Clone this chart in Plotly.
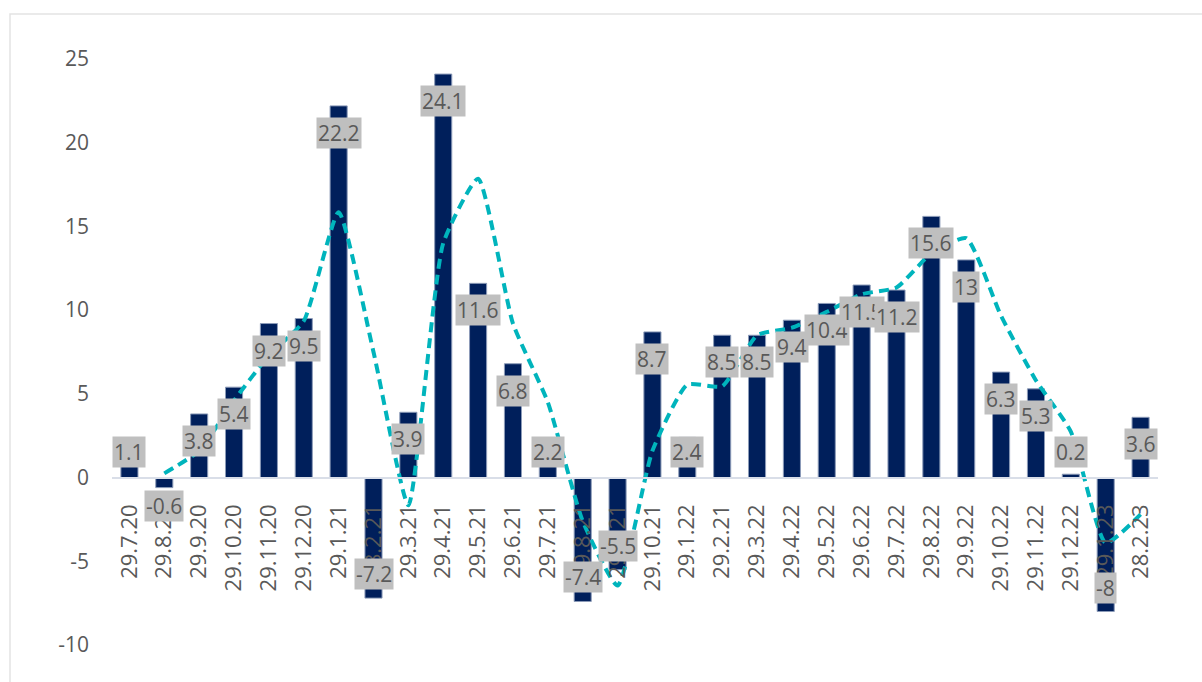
import plotly.graph_objects as go

categories = ["29.7.20", "29.8.20", "29.9.20", "29.10.20", "29.11.20", "29.12.20",
              "29.1.21", "28.2.21", "29.3.21", "29.4.21", "29.5.21", "29.6.21",
              "29.7.21", "29.8.21", "29.9.21", "29.10.21", "29.1.22", "29.2.21",
              "29.3.22", "29.4.22", "29.5.22", "29.6.22", "29.7.22", "29.8.22",
              "29.9.22", "29.10.22", "29.11.22", "29.12.22", "29.1.23", "28.2.23"]
values = [1.1, -0.6, 3.8, 5.4, 9.2, 9.5, 22.2, -7.2, 3.9, 24.1, 11.6, 6.8, 2.2,
          -7.4, -5.5, 8.7, 2.4, 8.5, 8.5, 9.4, 10.4, 11.5, 11.2, 15.6, 13, 6.3,
          5.3, 0.2, -8, 3.6]
trend_categories = categories[1:]
trend_values = [0.25, 1.6, 4.6, 7.3, 9.35, 15.85, 7.5, -1.65, 14.0, 17.85, 9.2, 4.5,
                -2.6, -6.45, 1.6, 5.55, 5.45, 8.5, 8.95, 9.9, 10.95, 11.35, 13.4,
                14.3, 9.65, 5.8, 2.75, -3.9, -2.2]
y_ticks = [-10, -5, 0, 5, 10, 15, 20, 25]
y_tick_text = ["-10", "-5", "0", "5", "10", "15", "20", "25"]

W, H = 1202, 682
ML, MR, MT, MB = 112, 44, 59, 37
YMIN, YMAX = -10, 25
px_per_unit = (H - MT - MB) / (YMAX - YMIN)

FONT = "Open Sans"
TXT = "#595959"
FS = 21

fig = go.Figure()
fig.add_trace(go.Bar(
    x=categories, y=values,
    marker=dict(color="#001F5B", line=dict(color="#8C9BB8", width=1)),
    hoverinfo="x+y",
))
fig.add_trace(go.Scatter(
    x=trend_categories, y=trend_values, mode="lines",
    line=dict(color="#00B4BC", width=4, dash="10px,6px", shape="spline", smoothing=0.5),
))

# data labels (inside end, kept clear of the zero line)
off_pos = 27 / px_per_unit
off_neg = 24 / px_per_unit
min_pos = 26 / px_per_unit
max_neg = -28 / px_per_unit
for c, v in zip(categories, values):
    if v >= 0:
        yl = max(v - off_pos, min_pos)
    else:
        yl = min(v + off_neg, max_neg)
    fig.add_annotation(x=c, y=yl, text=f"{v:g}", showarrow=False,
                       font=dict(family=FONT, size=FS, color=TXT),
                       bgcolor="#BFBFBF", borderpad=1, yanchor="middle")

zero_pos = (0 - YMIN) / (YMAX - YMIN)
plot_w = W - ML - MR
plot_h = H - MT - MB
fig.add_shape(type="rect", xref="paper", yref="paper",
              x0=(10 - ML) / plot_w, x1=1.5,
              y0=-0.5, y1=1 + (MT - 14) / plot_h,
              line=dict(color="#E3E3E3", width=1.5), layer="below")

fig.update_layout(
    width=W, height=H,
    margin=dict(l=ML, r=MR, t=MT, b=MB),
    paper_bgcolor="white", plot_bgcolor="white",
    showlegend=False, bargap=0.51,
    font=dict(family=FONT, size=FS, color=TXT),
    xaxis=dict(type="category", anchor="free", position=zero_pos,
               showline=True, linecolor="#D9DEE8", linewidth=2,
               showgrid=False, zeroline=False, tickangle=-90,
               ticks="", ticklabelstandoff=17,
               tickfont=dict(family=FONT, size=22, color=TXT)),
    yaxis=dict(range=[YMIN, YMAX], tickvals=y_ticks, ticktext=y_tick_text,
               showgrid=False, zeroline=False, showline=False, ticks="",
               ticklabelstandoff=22,
               tickfont=dict(family=FONT, size=FS, color=TXT)),
)

fig.write_html("out.html")
